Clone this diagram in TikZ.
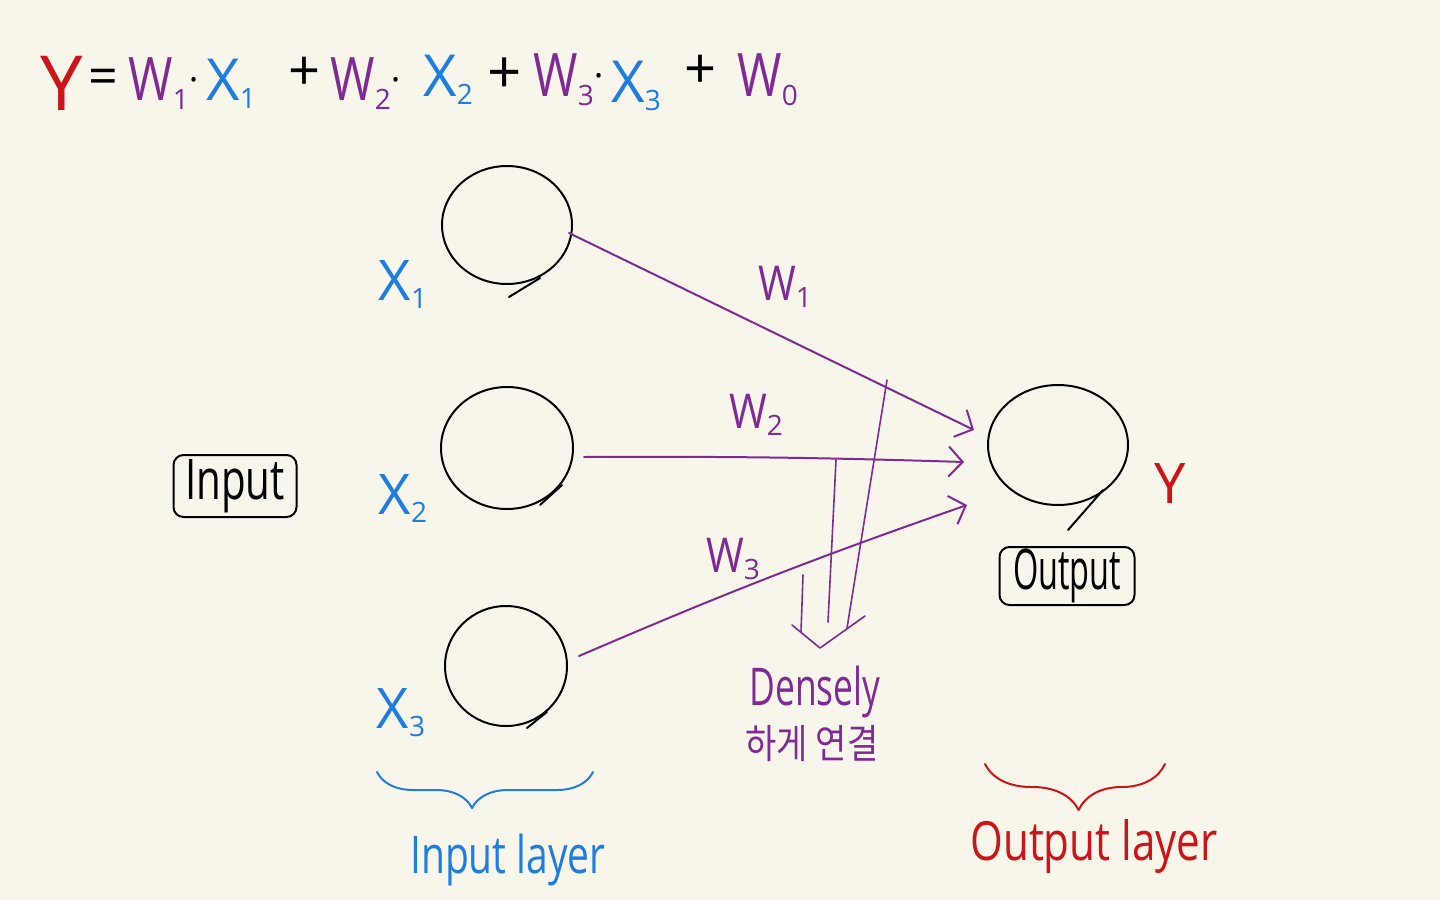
\documentclass[tikz,border=0pt]{standalone}
\usepackage{fontspec}
\usepackage{graphicx}
\setmainfont{Open Sans}
\newfontfamily\kr{Noto Sans CJK KR}
\usetikzlibrary{shapes.geometric,arrows.meta,decorations.pathreplacing,calc}
\definecolor{bg}{RGB}{248,246,235}
\definecolor{pur}{RGB}{128,42,150}
\definecolor{blu}{RGB}{30,125,225}
\definecolor{rd}{RGB}{205,20,25}
\newcommand{\fs}[1]{\fontsize{#1}{#1}\selectfont}
\newcommand{\cnd}[2]{\scalebox{#1}[1]{#2}}
\newcommand{\sbs}[1]{\raisebox{-0.15em}{\fontsize{14}{14}\selectfont #1}}
\newcommand{\mdot}{{\color{black}\fontsize{18}{18}\selectfont\raisebox{0.2em}{·}}}
\begin{document}
\begin{tikzpicture}[x=0.5pt,y=-0.5pt,line cap=round,line join=round,
  neuron/.style={draw=black,ellipse,line width=1pt,inner sep=0pt},
  wire/.style={draw=pur,line width=1pt,-{Straight Barb[length=7pt,width=15pt]}},
  txt/.style={inner sep=0pt,anchor=base},
  ftxt/.style={inner sep=0pt,anchor=base west},
  tbox/.style={draw=black,line width=1pt,rounded corners=5pt,inner sep=0pt},
  dense/.style={draw=pur,line width=0.8pt},
  brace/.style={decorate,line width=1pt}]
\fill[bg] (0,0) rectangle (1440,900);
\useasboundingbox (0,0) rectangle (1440,900);

% formula
\node[ftxt,text=rd] (fy) at (40,110) {\fs{38}Y};
\node[ftxt] (feq) at (88,94) {\fs{26}=};
\node[ftxt,text=pur] (fw1) at (128,100) {\fs{30}\cnd{0.8}{W}\sbs{1}\mdot};
\node[ftxt,text=blu] (fx1) at (206,100) {\fs{29}X\sbs{1}};
\node[ftxt] (fp1) at (288,90) {\fs{28}+};
\node[ftxt,text=pur] (fw2) at (330,100) {\fs{30}\cnd{0.8}{W}\sbs{2}\mdot};
\node[ftxt,text=blu] (fx2) at (423,96) {\fs{29}X\sbs{2}};
\node[ftxt] (fp2) at (487,93) {\fs{30}+};
\node[ftxt,text=pur] (fw3) at (533,96) {\fs{30}\cnd{0.8}{W}\sbs{3}\mdot};
\node[ftxt,text=blu] (fx3) at (611,102) {\fs{29}X\sbs{3}};
\node[ftxt] (fp3) at (684,88) {\fs{28}+};
\node[ftxt,text=pur] (fw0) at (737,96) {\fs{30}\cnd{0.8}{W}\sbs{0}};

% neurons
\node[neuron,minimum width=65pt,minimum height=59pt] (in1) at (507,225) {};
\node[neuron,minimum width=66pt,minimum height=61pt] (in2) at (507,448) {};
\node[neuron,minimum width=61pt,minimum height=60pt] (in3) at (506,666) {};
\node[neuron,minimum width=70pt,minimum height=60pt] (out) at (1058,445) {};
% pen overshoots
\draw[line width=1pt] ($(in1)+(2,72)$) -- ($(in1)+(33,53)$);
\draw[line width=1pt] ($(in2)+(33,57)$) -- ($(in2)+(55,37)$);
\draw[line width=1pt] ($(in3)+(21,62)$) -- ($(in3)+(41,46)$);
\draw[line width=1pt] ($(out)+(10,85)$) -- ($(out)+(45,45)$);

% input labels
\node[txt,text=blu] (x1) at (403,300) {\fs{28}X\sbs{1}};
\node[txt,text=blu] (x2) at (403,514) {\fs{28}X\sbs{2}};
\node[txt,text=blu] (x3) at (401,728) {\fs{28}X\sbs{3}};
\node[txt,text=rd] (y) at (1170,503) {\fs{28}Y};

% side boxes
\node[tbox,minimum width=61.5pt,minimum height=31pt] (inbox) at (235,486) {\fs{28}\cnd{0.72}{Input}};
\node[tbox,minimum width=67.5pt,minimum height=29pt] (outbox) at (1067,576) {\fs{28}\cnd{0.58}{Output}};

% weighted connections
\draw[wire] ($(in1.east)+(-4,8)$) -- ($(out.west)+(-13,-15)$);
\draw[wire] ($(in2.east)+(10,9)$) to[bend left=1] ($(out.west)+(-23,17)$);
\draw[wire] ($(in3.east)+(11,-10)$) to[bend left=2] ($(out.west)+(-20,60)$);
\node[txt,text=pur] (w1) at (785,300) {\fs{24}\cnd{0.85}{W}\sbs{1}};
\node[txt,text=pur] (w2) at (756,428) {\fs{24}\cnd{0.85}{W}\sbs{2}};
\node[txt,text=pur] (w3) at (733,572) {\fs{24}\cnd{0.85}{W}\sbs{3}};

% densely connected arrow
\coordinate (da) at (887,380);
\coordinate (db) at (836,460);
\coordinate (dc) at (803,575);
\coordinate (tip) at (820,648);
\draw[dense] (da) -- (847,628);
\draw[dense] (db) -- (828,622);
\draw[dense] (dc) -- (801,632);
\draw[dense] (792,625) -- (tip) -- (865,616);
\node[txt,text=pur] (dtxt) at (815,705) {\fs{26}\cnd{0.68}{Densely}};
\node[txt,text=pur] (ktxt) at (812,758) {\kr\fs{20}\cnd{0.85}{하게 연결}};

% braces
\draw[brace,draw=blu,decoration={brace,mirror,amplitude=18pt,aspect=0.44}] (377,772) -- (593,772);
\draw[brace,draw=rd,decoration={brace,mirror,amplitude=23pt,aspect=0.52}] (985,764) -- (1165,764);
\node[txt,text=blu] (il) at (508,873) {\fs{26}\cnd{0.75}{Input layer}};
\node[txt,text=rd] (ol) at (1094,860) {\fs{27}\cnd{0.78}{Output layer}};
\end{tikzpicture}
\end{document}
